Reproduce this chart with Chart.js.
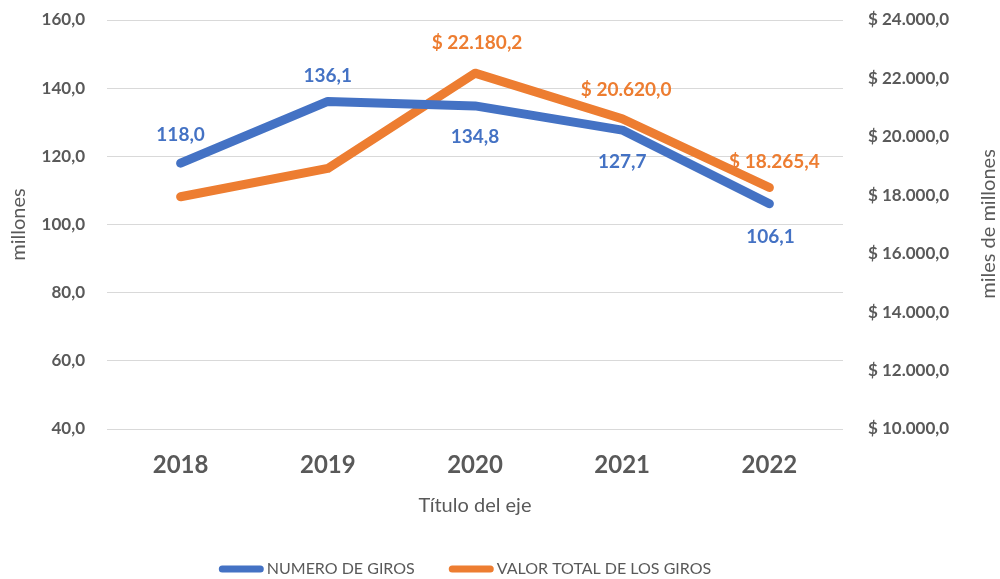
<!DOCTYPE html>
<html><head><meta charset="utf-8">
<script src="https://cdn.jsdelivr.net/npm/chart.js@4.4.1/dist/chart.umd.min.js"></script>
<style>html,body{margin:0;padding:0;background:#fff}#wrap{width:1000px;height:579px}</style>
</head><body><div id="wrap"><canvas id="c" width="1000" height="579"></canvas></div>
<script>
const categories = ['2018','2019','2020','2021','2022'];
const numeroGiros = [118.0, 136.1, 134.8, 127.7, 106.1];
const valorTotal = [17950, 18920, 22180.2, 20620.0, 18265.4];
const showValorLabel = [false, false, true, true, true];
const leftTicks = {min: 40, max: 160, step: 20};
const rightTicks = {min: 10000, max: 24000, step: 2000};

const FONT = 'Lato, "Open Sans", sans-serif';
const GRAY = '#595959';
const BLUE = '#4472C4';
const ORANGE = '#ED7D31';

function fmtNum(v){ return v.toFixed(1).replace('.', ','); }
function fmtMoney(v){
  const s = v.toFixed(1).split('.');
  const int = s[0].replace(/\B(?=(\d{3})+(?!\d))/g, '.');
  return '$ ' + int + ',' + s[1];
}

// label offsets (style only)
const labelOffsets = [
  [[0,-28],[0,-26],[0,31],[0,32],[1,33]],
  [[0,-27],[0,-27],[2,-30],[4,-29],[5,-26]]
];

const labelsPlugin = {
  id: 'labels',
  afterDatasetsDraw(chart){
    const ctx = chart.ctx;
    ctx.save();
    ctx.textAlign = 'center';
    ctx.textBaseline = 'middle';
    chart.data.datasets.forEach((ds, di) => {
      const meta = chart.getDatasetMeta(di);
      meta.data.forEach((pt, i) => {
        if (di === 1 && !showValorLabel[i]) return;
        const off = labelOffsets[di][i];
        ctx.fillStyle = di === 0 ? BLUE : ORANGE;
        ctx.font = 'bold 19px ' + FONT;
        const txt = di === 0 ? fmtNum(ds.data[i]) : fmtMoney(ds.data[i]);
        ctx.fillText(txt, pt.x + off[0], pt.y + off[1]);
      });
    });
    ctx.restore();
  },
  afterDraw(chart){
    const ctx = chart.ctx;
    // right axis title
    ctx.save();
    ctx.translate(989, 224);
    ctx.rotate(-Math.PI/2);
    ctx.textAlign = 'center';
    ctx.textBaseline = 'middle';
    ctx.fillStyle = GRAY;
    ctx.font = '20px ' + FONT;
    ctx.fillText('miles de millones', 0, 0);
    ctx.restore();
    // legend
    ctx.save();
    ctx.font = '16px ' + FONT;
    ctx.textBaseline = 'middle';
    ctx.textAlign = 'left';
    const boxW = 45, boxH = 7, gapText = 3, gapItem = 34, y = 569;
    const items = chart.data.datasets.map(ds => ({text: ds.label, color: ds.borderColor, w: ctx.measureText(ds.label).width}));
    let total = items.reduce((a, it) => a + boxW + gapText + it.w, 0) + gapItem * (items.length - 1);
    let x = 465 - total / 2;
    items.forEach(it => {
      ctx.fillStyle = it.color;
      ctx.beginPath();
      ctx.roundRect(x, y - boxH/2, boxW, boxH, boxH/2);
      ctx.fill();
      ctx.fillStyle = GRAY;
      ctx.fillText(it.text, x + boxW + gapText, y);
      x += boxW + gapText + it.w + gapItem;
    });
    ctx.restore();
  }
};

new Chart(document.getElementById('c'), {
  type: 'line',
  data: {
    labels: categories,
    datasets: [
      {label: 'NUMERO DE GIROS', data: numeroGiros, yAxisID: 'y', borderColor: BLUE, backgroundColor: BLUE,
       borderWidth: 9, pointRadius: 0, borderCapStyle: 'round', borderJoinStyle: 'round', tension: 0},
      {label: 'VALOR TOTAL DE LOS GIROS', data: valorTotal, yAxisID: 'y1', borderColor: ORANGE, backgroundColor: ORANGE,
       borderWidth: 9, pointRadius: 0, borderCapStyle: 'round', borderJoinStyle: 'round', tension: 0}
    ]
  },
  plugins: [labelsPlugin],
  options: {
    responsive: false,
    animation: false,
    devicePixelRatio: 1,
    layout: {padding: {top: 20, bottom: 40, left: 0, right: 0}},
    plugins: {
      tooltip: {enabled: false},
      legend: {display: false}
    },
    scales: {
      x: {
        offset: true,
        afterFit(scale){ scale.height = 110; },
        grid: {display: false},
        border: {display: false},
        ticks: {font: {family: FONT, size: 24, weight: 'bold'}, color: GRAY, padding: 14},
        title: {display: true, text: 'Título del eje', font: {family: FONT, size: 20}, color: GRAY, padding: {top: 10, bottom: 21}}
      },
      y: {
        position: 'left',
        min: leftTicks.min, max: leftTicks.max,
        afterFit(scale){ scale.width = 107; scale.paddingTop = 0; scale.paddingBottom = 0; },
        grid: {color: '#d9d9d9', lineWidth: 1, drawTicks: false},
        border: {display: false},
        ticks: {stepSize: leftTicks.step, font: {family: FONT, size: 17, weight: 'bold'}, color: GRAY, padding: 22,
          callback: v => fmtNum(v)},
        title: {display: true, text: 'millones', font: {family: FONT, size: 20}, color: GRAY, padding: {top: 7, bottom: 0}}
      },
      y1: {
        position: 'right',
        min: rightTicks.min, max: rightTicks.max,
        afterFit(scale){ scale.width = 157; scale.paddingTop = 0; scale.paddingBottom = 0; },
        grid: {display: false, drawTicks: false},
        border: {display: false},
        ticks: {stepSize: rightTicks.step, font: {family: FONT, size: 17, weight: 'bold'}, color: GRAY, padding: 25,
          callback: v => fmtMoney(v)}
      }
    }
  }
});
</script>
</body></html>
